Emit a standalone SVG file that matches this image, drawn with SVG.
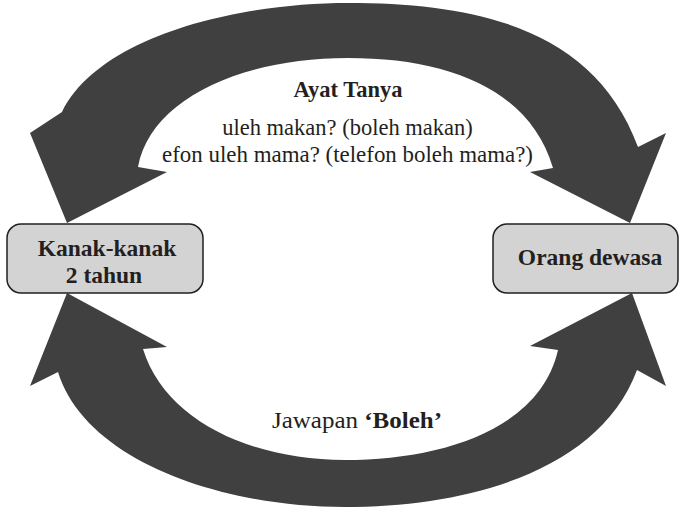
<svg xmlns="http://www.w3.org/2000/svg" width="680" height="513" viewBox="0 0 680 513">
<style>
.arrow{fill:#404040;stroke:none}
.box{fill:#d3d3d4;stroke:#231f20;stroke-width:1.5}
.lbl{font-family:"Liberation Serif","Times New Roman",serif;fill:#231f20;font-size:22.5px;text-anchor:middle}
.nd{font-size:23.5px;font-weight:bold}
.b{font-weight:bold}
</style>
<rect width="680" height="513" fill="#ffffff"/>
<g id="connectors">
<path id="arrow-top" class="arrow" d="M62,112 C100,35 240,3 348,3 C480,3 595,30 638,147 L666,133 L630,223 L530,172 L553,168 C530,90 450,58 348,58 C240,58 150,100 138,167 L167,172 L67,223 L30,133 Z"/>
<path id="arrow-bottom" class="arrow" d="M58,372 C85,460 220,507 345,507 C470,507 600,470 637,370 L666,386 L632,293 L530,346 L558,350 C540,430 440,460 345,460 C250,460 165,420 143,349 L167,347 L67,293 L30,386 Z"/>
</g>
<g id="label-top">
<text class="lbl b" x="348" y="97">Ayat Tanya</text>
<text class="lbl" x="347.5" y="135">uleh makan? (boleh makan)</text>
<text class="lbl" x="347.5" y="162" textLength="371" lengthAdjust="spacingAndGlyphs">efon uleh mama? (telefon boleh mama?)</text>
</g>
<g id="label-bottom">
<text class="lbl" x="357" y="428" style="font-size:24px" textLength="170" lengthAdjust="spacingAndGlyphs">Jawapan <tspan class="b">‘Boleh’</tspan></text>
</g>
<g id="node-kanak">
<rect class="box" x="7" y="224" width="196" height="69" rx="14"/>
<text class="lbl nd" x="107" y="256">Kanak-kanak</text>
<text class="lbl nd" x="104" y="283">2 tahun</text>
</g>
<g id="node-dewasa">
<rect class="box" x="493" y="224" width="185" height="69" rx="14"/>
<text class="lbl nd" x="590" y="265">Orang dewasa</text>
</g>
</svg>
